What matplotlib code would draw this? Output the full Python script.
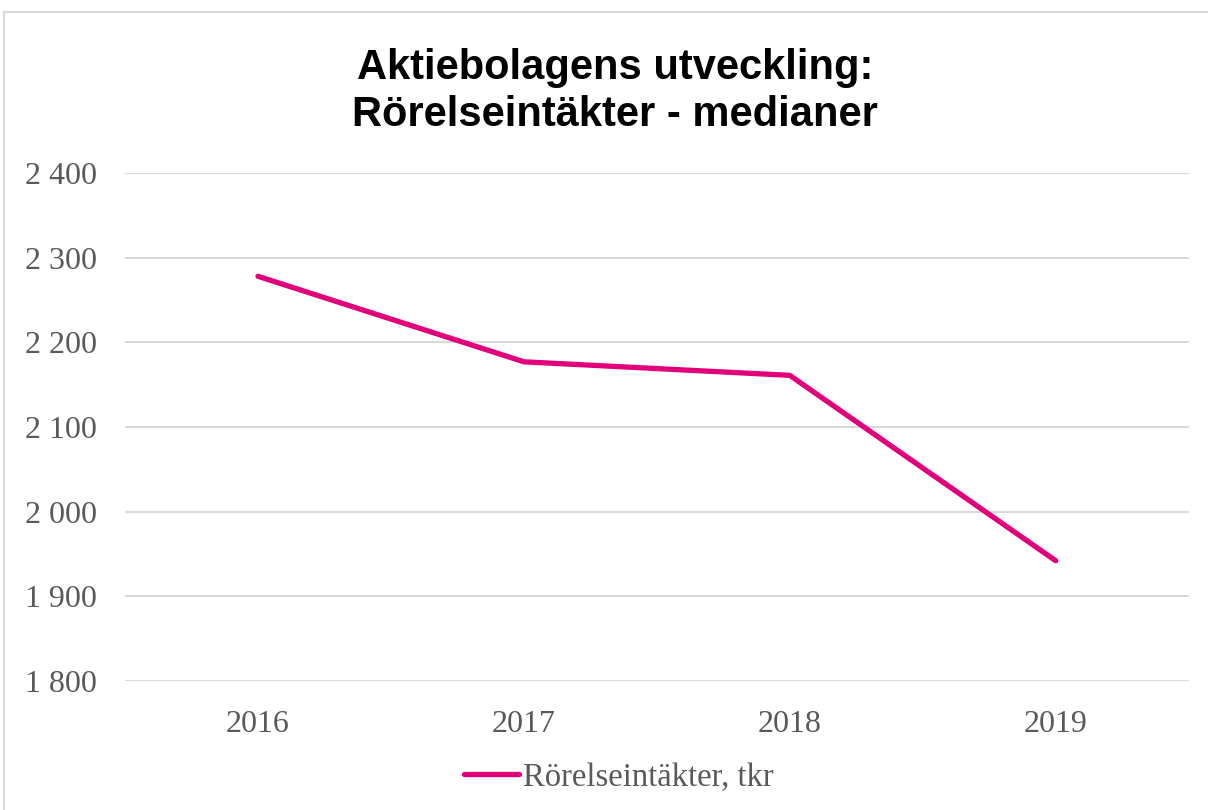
import matplotlib
matplotlib.use('Agg')
import matplotlib.pyplot as plt
from matplotlib.ticker import FuncFormatter, MultipleLocator
from matplotlib.patches import Rectangle

years = ['2016', '2017', '2018', '2019']
values = [2278, 2177, 2161, 1942]
series_name = 'Rörelseintäkter, tkr'
title = 'Aktiebolagens utveckling:\nRörelseintäkter - medianer'

line_color = '#E2007A'
text_gray = '#595959'
grid_gray = '#D9D9D9'

fig = plt.figure(figsize=(12.08, 8.1), dpi=100)
ax = fig.add_axes([0.1035, 0.1593, 0.8805, 0.6271])

# chart border
fig.patches.append(Rectangle((4 / 1208, -0.02), 1.05, 1 - 12 / 810 + 0.02,
                             transform=fig.transFigure, fill=False,
                             edgecolor=grid_gray, linewidth=1.5))

x = list(range(len(years)))
line, = ax.plot(x, values, color=line_color, linewidth=3.8,
                solid_capstyle='round', label=series_name)

ax.set_xlim(-0.5, 3.5)
ax.set_ylim(1800, 2400)
ax.yaxis.set_major_locator(MultipleLocator(100))
ax.yaxis.set_major_formatter(FuncFormatter(lambda v, p: f'{int(v):,}'.replace(',', ' ')))
ax.set_xticks(x)
ax.set_xticklabels(years)

for s in ax.spines.values():
    s.set_visible(False)
ax.grid(axis='y', color=grid_gray, linewidth=1.5)
ax.set_axisbelow(True)
ax.tick_params(length=0, labelsize=23, labelcolor=text_gray)
ax.tick_params(axis='y', pad=20)
ax.tick_params(axis='x', pad=21)
for lab in ax.get_xticklabels() + ax.get_yticklabels():
    lab.set_fontfamily('Liberation Serif')

fig.text(0.509, 0.887, title, ha='center', va='center', fontsize=30,
         fontweight='bold', fontfamily='Liberation Sans',
         linespacing=1.25)

leg = fig.legend(handles=[line], loc='center', bbox_to_anchor=(0.512, 0.04),
                 frameon=False, handlelength=1.7, handletextpad=0.1,
                 prop={'family': 'Liberation Serif', 'size': 23.5})
for t in leg.get_texts():
    t.set_color(text_gray)

fig.savefig('out.png', dpi=100)
